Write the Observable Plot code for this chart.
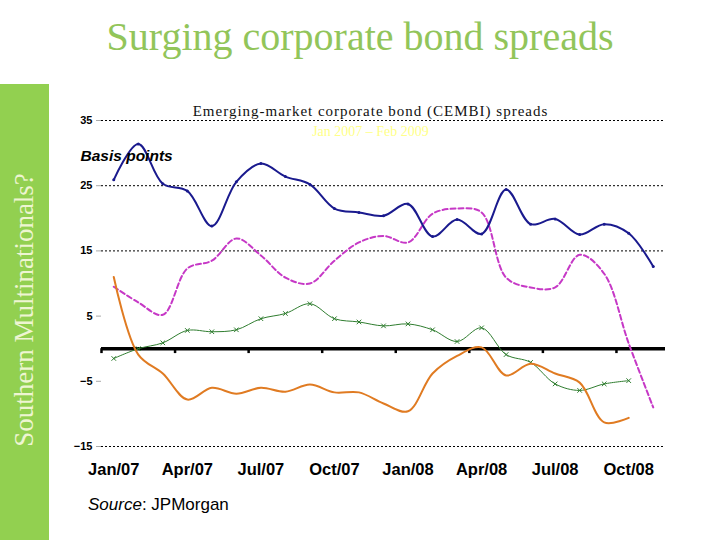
<!DOCTYPE html>
<html>
<head>
<meta charset="utf-8">
<script src="https://cdn.jsdelivr.net/npm/d3@7"></script>
<script src="https://cdn.jsdelivr.net/npm/@observablehq/plot@0.6"></script>
<style>
  html, body { margin: 0; padding: 0; background: #fff; }
  #wrap { width: 720px; height: 540px; overflow: hidden; }
  #title { height: 84px; width: 720px; text-align: center; font-family: "Liberation Serif", "Times New Roman", serif;
           font-size: 40px; color: #92c55a; line-height: 1; box-sizing: border-box; padding-top: 17px; }
  #row { display: flex; height: 456px; }
  #side { width: 49px; height: 456px; background: #92d050; position: relative; flex: none; }
  #side span { position: absolute; left: 24px; top: 226px; transform: translate(-50%, -50%) rotate(-90deg);
               white-space: nowrap; font-family: "Liberation Serif", "Times New Roman", serif; font-size: 27px; color: #eef5d2; }
  #chart { width: 671px; height: 456px; }
</style>
</head>
<body>
<div id="wrap">
  <div id="title">Surging corporate bond spreads</div>
  <div id="row">
    <div id="side"><span>Southern Multinationals?</span></div>
    <div id="chart"></div>
  </div>
</div>
<script>
// Month index 0 = Jan/07 ... 22 = Nov/08
const blue   = [25.9, 31.4, 25.3, 24.2, 18.8, 25.6, 28.4, 26.4, 25.2, 21.5, 20.9, 20.4, 22.2, 17.2, 19.8, 17.6, 24.4, 19.1, 19.9, 17.5, 19.1, 17.7, 12.6];
const pink   = [9.5, 7.1, 5.2, 12.3, 13.5, 16.9, 14.3, 10.9, 10.0, 13.5, 16.3, 17.3, 16.3, 20.7, 21.5, 20.9, 10.9, 9.4, 9.4, 14.4, 11.5, 0.8, -9.0];
const green  = [-1.5, 0.0, 0.9, 2.8, 2.6, 2.9, 4.6, 5.4, 6.9, 4.6, 4.1, 3.5, 3.8, 2.9, 1.1, 3.2, -0.9, -2.1, -5.4, -6.4, -5.4, -4.9];
const orange = [11.0, -0.9, -3.8, -7.8, -6.0, -6.9, -6.0, -6.6, -5.5, -6.7, -6.7, -8.4, -9.6, -3.8, -1.1, 0.2, -4.1, -2.3, -3.8, -5.2, -11.3, -10.6];

const xTickIdx    = [0, 3, 6, 9, 12, 15, 18, 21];
const xTickLabels = ["Jan/07", "Apr/07", "Jul/07", "Oct/07", "Jan/08", "Apr/08", "Jul/08", "Oct/08"];
const quarterBounds = [-0.5, 2.5, 5.5, 8.5, 11.5, 14.5, 17.5, 20.5];
const yTicks  = [35, 25, 15, 5, -5, -15];
const yGrid   = [35, 25, 15, -15];

const toRows = arr => arr.map((v, i) => ({i, v}));
const labelOf = new Map(xTickIdx.map((d, k) => [d, xTickLabels[k]]));

const plot = Plot.plot({
  width: 671, height: 456,
  marginTop: 36, marginBottom: 94, marginLeft: 52, marginRight: 55,
  x: {domain: [-0.5, 22.5], axis: null},
  y: {domain: [-15, 35], axis: null},
  style: {fontFamily: "'Liberation Sans', Arial, sans-serif", background: "white", color: "black"},
  marks: [
    Plot.ruleY(yGrid, {stroke: "#000", strokeDasharray: "2,2", strokeWidth: 1}),
    Plot.axisY({ticks: yTicks, tickSize: 5, tickPadding: 4, fontSize: 11, fontWeight: "bold", stroke: "#aaa", fill: "black", label: null}),
    Plot.axisX({ticks: xTickIdx, tickFormat: d => labelOf.get(d), tickSize: 0, tickPadding: 17, fontSize: 16.5, fontWeight: "bold", anchor: "bottom", label: null}),
    Plot.ruleY([0], {x1: -0.5, x2: 22.5, stroke: "black", strokeWidth: 3.5}),
    Plot.ruleX(quarterBounds, {y1: 0, y2: -0.75, stroke: "black", strokeWidth: 2.5}),
    Plot.line(toRows(pink), {x: "i", y: "v", stroke: "#c638c6", strokeWidth: 2, strokeDasharray: "5,3", curve: "catmull-rom"}),
    Plot.line(toRows(blue), {x: "i", y: "v", stroke: "#1a1a8e", strokeWidth: 2, curve: "catmull-rom"}),
    Plot.dot(toRows(blue), {x: "i", y: "v", r: 1.5, fill: "#1a1a8e", stroke: null}),
    Plot.line(toRows(green), {x: "i", y: "v", stroke: "#2f7d2f", strokeWidth: 1, curve: "catmull-rom"}),
    Plot.dot(toRows(green), {x: "i", y: "v", symbol: "times", r: 2.2, stroke: "#2f7d2f", strokeWidth: 1}),
    Plot.line(toRows(orange), {x: "i", y: "v", stroke: "#e07b22", strokeWidth: 2, curve: "catmull-rom"}),
    Plot.text(["Emerging-market corporate bond (CEMBI) spreads"], {frameAnchor: "top", dx: -13, dy: -9, text: d => d,
      fontFamily: "'Liberation Serif', 'Times New Roman', serif", fontSize: 15, fill: "#111", lineAnchor: "middle"}),
    Plot.text(["Jan 2007 \u2013 Feb 2009"], {frameAnchor: "top", dx: -13, dy: 11, text: d => d,
      fontFamily: "'Liberation Serif', 'Times New Roman', serif", fontSize: 14, fill: "#ffff88", lineAnchor: "middle"}),
    Plot.text(["Basis points"], {frameAnchor: "top-left", dx: -21, dy: 36, text: d => d, textAnchor: "start",
      fontSize: 15.5, fontWeight: "bold", fontStyle: "italic", fill: "black", lineAnchor: "middle"})
  ]
});
document.getElementById("chart").appendChild(plot);

// letter spacing for the chart subtitle
d3.select(plot).selectAll("text").filter(function() { return this.textContent.startsWith("Emerging"); })
  .style("letter-spacing", "1px");

// Source line (mixed italic / regular)
const src = d3.select(plot).append("text")
  .attr("x", 39).attr("y", 426)
  .attr("text-anchor", "start")
  .attr("font-family", "'Liberation Sans', Arial, sans-serif")
  .attr("font-size", 17).attr("fill", "black");
src.append("tspan").attr("font-style", "italic").text("Source");
src.append("tspan").text(": JPMorgan");
</script>
</body>
</html>
